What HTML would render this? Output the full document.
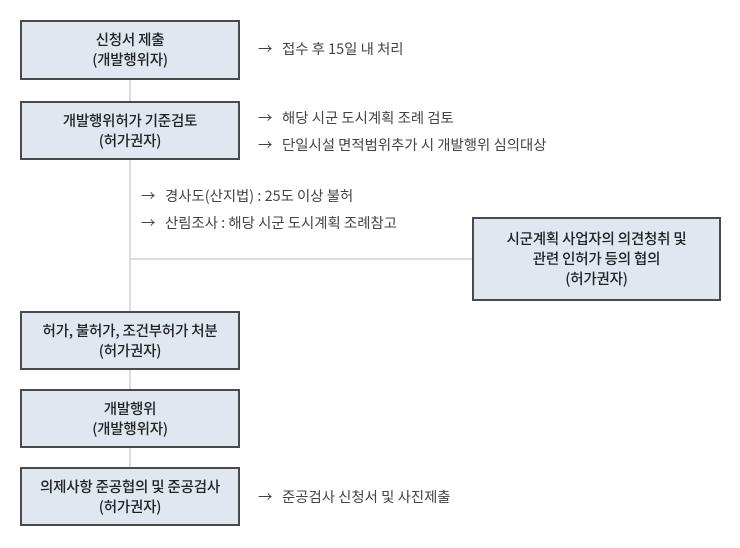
<!DOCTYPE html>
<html><head><meta charset="utf-8"><style>
body{margin:0;width:740px;height:548px;background:#fff;position:relative;font-family:"Noto Sans CJK KR","Liberation Sans",sans-serif;overflow:hidden}
.b{position:absolute;box-sizing:border-box;border:2px solid #4a4a4a;background:#dfe8f1;display:flex;align-items:center;justify-content:center;text-align:center;font-size:14.5px;line-height:20px;color:#222;font-weight:500;letter-spacing:-0.2px}
.t{position:absolute;font-size:14.4px;color:#444;white-space:nowrap;line-height:18px;letter-spacing:0}
.t span{display:inline-block;width:24px}
.l{position:absolute;background:#dcdcdc}
</style></head><body>
<div class="l" style="left:129px;top:78px;width:2px;height:392px"></div>
<div class="l" style="left:130px;top:258px;width:344px;height:2px"></div>
<div class="b" style="left:20px;top:20px;width:220px;height:60px">신청서 제출<br>(개발행위자)</div>
<div class="b" style="left:20px;top:101px;width:220px;height:59px">개발행위허가 기준검토<br>(허가권자)</div>
<div class="b" style="left:472px;top:217px;width:249px;height:84px">시군계획 사업자의 의견청취 및<br>관련 인허가 등의 협의<br>(허가권자)</div>
<div class="b" style="left:20px;top:311px;width:220px;height:59px">허가, 불허가, 조건부허가 처분<br>(허가권자)</div>
<div class="b" style="left:20px;top:389px;width:220px;height:59px">개발행위<br>(개발행위자)</div>
<div class="b" style="left:20px;top:467px;width:220px;height:59px">의제사항 준공협의 및 준공검사<br>(허가권자)</div>
<div class="t" style="left:258px;top:40px"><span>→</span>접수 후 15일 내 처리</div>
<div class="t" style="left:258px;top:109px"><span>→</span>해당 시군 도시계획 조례 검토</div>
<div class="t" style="left:258px;top:136px"><span>→</span>단일시설 면적범위추가 시 개발행위 심의대상</div>
<div class="t" style="left:141px;top:187px"><span>→</span>경사도(산지법) : 25도 이상 불허</div>
<div class="t" style="left:141px;top:214px"><span>→</span>산림조사 : 해당 시군 도시계획 조례참고</div>
<div class="t" style="left:258px;top:488px"><span>→</span>준공검사 신청서 및 사진제출</div>
</body></html>
